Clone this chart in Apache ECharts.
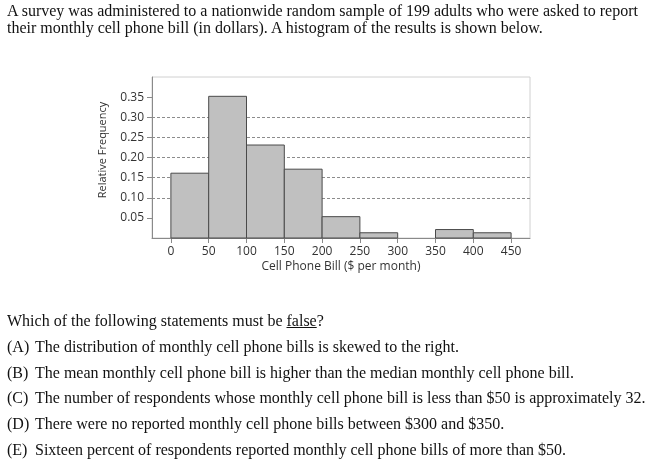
<!DOCTYPE html>
<html>
<head>
<meta charset="utf-8">
<script src="https://cdn.jsdelivr.net/npm/echarts@6/dist/echarts.min.js"></script>
<style>
  html, body { margin: 0; padding: 0; background: #fff; }
  #page { position: relative; width: 648px; height: 464px; overflow: hidden; }
  #chart { position: absolute; left: 0; top: 0; width: 648px; height: 464px; }
  .txt { position: absolute; left: 7px; font-family: "Liberation Serif", "Times New Roman", serif;
         font-size: 16px; color: #111; white-space: nowrap; line-height: 17px; }
  .opt span.lab { display: inline-block; width: 28px; }
</style>
</head>
<body>
<div id="page">
  <div id="chart"></div>
  <div class="txt" style="top:2px">A survey was administered to a nationwide random sample of 199 adults who were asked to report<br>their monthly cell phone bill (in dollars). A histogram of the results is shown below.</div>
  <div class="txt" style="top:312px">Which of the following statements must be <u>false</u>?</div>
  <div class="txt opt" style="top:338px"><span class="lab">(A)</span>The distribution of monthly cell phone bills is skewed to the right.</div>
  <div class="txt opt" style="top:364px"><span class="lab">(B)</span>The mean monthly cell phone bill is higher than the median monthly cell phone bill.</div>
  <div class="txt opt" style="top:389px"><span class="lab">(C)</span>The number of respondents whose monthly cell phone bill is less than $50 is approximately 32.</div>
  <div class="txt opt" style="top:415px"><span class="lab">(D)</span>There were no reported monthly cell phone bills between $300 and $350.</div>
  <div class="txt opt" style="top:441px"><span class="lab">(E)</span>Sixteen percent of respondents reported monthly cell phone bills of more than $50.</div>
</div>
<script>
// histogram bins (dollars) and relative frequencies
const binStarts = [0, 50, 100, 150, 200, 250, 300, 350, 400];
const binWidth = 50;
const relFreq = [0.161, 0.352, 0.231, 0.171, 0.053, 0.013, 0, 0.021, 0.013];
const xTicks = [0, 50, 100, 150, 200, 250, 300, 350, 400, 450];
const yTicks = [0.05, 0.10, 0.15, 0.20, 0.25, 0.30, 0.35];

const bars = binStarts.map((s, i) => [s, s + binWidth, relFreq[i]]);

const chart = echarts.init(document.getElementById("chart"));
const axisFont = { fontFamily: "Open Sans", fontSize: 12, color: "#333" };

chart.setOption({
  animation: false,
  grid: { left: 152, top: 77, width: 378, height: 161, show: true, borderColor: "#d0d0d0", borderWidth: 1 },
  xAxis: {
    type: "value", min: -25, max: 475,
    name: "Cell Phone Bill ($ per month)", nameLocation: "middle", nameGap: 23,
    nameTextStyle: axisFont,
    axisLine: { show: true, onZero: false, lineStyle: { color: "#8a8a8a" } },
    axisTick: { show: true, length: 5, lineStyle: { color: "#8a8a8a" }, customValues: xTicks },
    axisLabel: Object.assign({ margin: 8, customValues: xTicks }, axisFont),
    splitLine: { show: false }
  },
  yAxis: {
    type: "value", min: 0, max: 0.4, interval: 0.05,
    name: "Relative Frequency", nameLocation: "middle", nameGap: 44,
    nameTextStyle: Object.assign({ padding: [0, 0, 0, 15] }, axisFont, { fontSize: 11 }),
    axisLine: { show: true, onZero: false, lineStyle: { color: "#8a8a8a" } },
    axisTick: { show: true, length: 5, lineStyle: { color: "#8a8a8a" }, customValues: yTicks },
    axisLabel: Object.assign({ margin: 8, customValues: yTicks, formatter: v => v.toFixed(2) }, axisFont),
    splitLine: { show: true, showMinLine: false, showMaxLine: false, lineStyle: { color: "#8c8c8c", type: [3, 2], width: 1 } }
  },
  series: [{
    type: "custom",
    data: bars,
    encode: { x: [0, 1], y: 2 },
    renderItem: function (params, api) {
      const h = api.value(2);
      if (!h) return null;
      const tl = api.coord([api.value(0), h]);
      const br = api.coord([api.value(1), 0]);
      return {
        type: "rect",
        shape: { x: tl[0], y: tl[1], width: br[0] - tl[0], height: br[1] - tl[1] },
        style: { fill: "#c0c0c0", stroke: "#4a4a4a", lineWidth: 1 }
      };
    }
  }]
});
</script>
</body>
</html>
